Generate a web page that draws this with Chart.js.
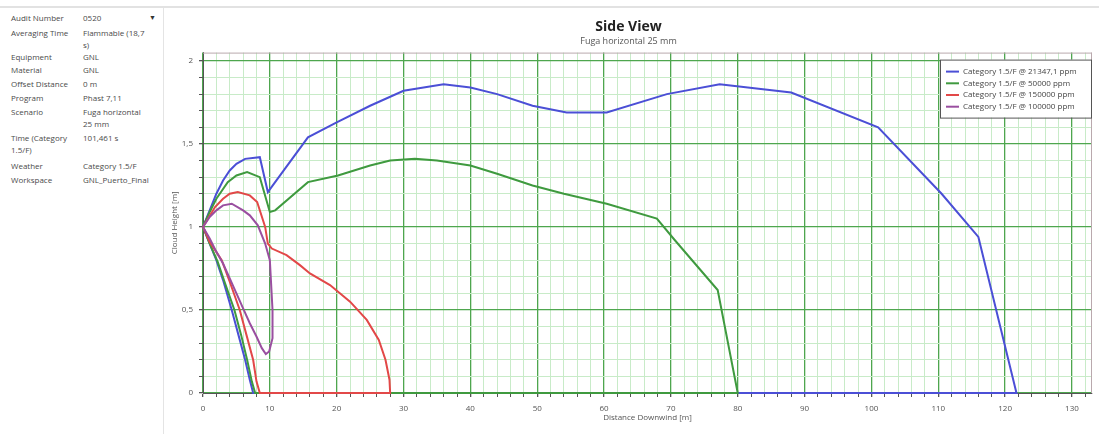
<!DOCTYPE html>
<html>
<head>
<meta charset="utf-8">
<script src="https://cdn.jsdelivr.net/npm/chart.js@4.4.0/dist/chart.umd.min.js"></script>
<style>
  body { margin: 0; background: #fff; font-family: "Open Sans", "Noto Sans", sans-serif; }
  #topbar { position: absolute; left: 0; top: 0; width: 1099px; height: 6px; border-bottom: 2px solid #e2e2e2; }
  #side { position: absolute; left: 0; top: 8px; width: 163px; height: 426px; border-right: 1px solid #e4e4e4; font-size: 8px; color: #4a4a4a; }
  .lbl { position: absolute; left: 11px; width: 72px; line-height: 12px; }
  .val { position: absolute; left: 83px; width: 78px; line-height: 12px; }
  #drop { position: absolute; left: 149px; top: 5px; font-size: 7px; color: #333; }
  #wrap { position: absolute; left: 165px; top: 10px; width: 934px; height: 424px; }
</style>
</head>
<body>
<div id="topbar"></div>
<div id="side"><span id="drop">&#9660;</span></div>
<div id="wrap"><canvas id="myChart"></canvas></div>
<script>
// side panel
var propNames = ['Audit Number', 'Averaging Time', 'Equipment', 'Material', 'Offset Distance',
  'Program', 'Scenario', 'Time (Category<br>1.5/F)', 'Weather', 'Workspace'];
var propValues = ['0520', 'Flammable (18,7<br>s)', 'GNL', 'GNL', '0 m',
  'Phast 7,11', 'Fuga horizontal<br>25 mm', '101,461 s', 'Category 1.5/F', 'GNL_Puerto_Final'];
var rowTops = [4, 19, 43, 56, 70, 84, 98, 124, 152, 166];

var side = document.getElementById('side');
for (var i = 0; i < propNames.length; i++) {
  var a = document.createElement('div');
  a.className = 'lbl'; a.style.top = rowTops[i] + 'px'; a.innerHTML = propNames[i];
  var b = document.createElement('div');
  b.className = 'val'; b.style.top = rowTops[i] + 'px'; b.innerHTML = propValues[i];
  side.appendChild(a); side.appendChild(b);
}

// chart data: each cloud outline runs from (0,1) down the lower edge,
// along the ground, up the far end and back along the upper edge
var seriesNames = ['Category 1.5/F @ 21347,1 ppm', 'Category 1.5/F @ 50000 ppm',
  'Category 1.5/F @ 150000 ppm', 'Category 1.5/F @ 100000 ppm'];

var blueX = [0, 1, 2, 3, 4.3, 5.3, 6.3, 7, 7.5, 121.7, 116, 110.5, 101, 88, 77.3, 69.4, 60.4, 54.4, 49.3, 44, 40, 36, 30, 25, 20, 15.7, 9.7, 8.5, 6.3, 5, 4, 3, 2, 1, 0];
var blueY = [1, 0.9, 0.8, 0.68, 0.5, 0.35, 0.2, 0.08, 0, 0, 0.94, 1.2, 1.6, 1.81, 1.86, 1.8, 1.69, 1.69, 1.73, 1.8, 1.84, 1.86, 1.82, 1.73, 1.63, 1.54, 1.21, 1.42, 1.41, 1.38, 1.34, 1.28, 1.2, 1.1, 1];

var greenX = [0, 1, 2.2, 3.3, 4.7, 5.7, 6.6, 7.3, 7.8, 80, 77, 70.6, 67.9, 60.4, 54, 49.3, 44, 40, 35, 31.7, 28, 25, 20.2, 15.7, 10.8, 10, 8.5, 6.6, 5, 3.7, 2, 1, 0];
var greenY = [1, 0.9, 0.79, 0.66, 0.5, 0.35, 0.2, 0.07, 0, 0, 0.62, 0.92, 1.05, 1.14, 1.2, 1.25, 1.32, 1.37, 1.4, 1.41, 1.4, 1.37, 1.31, 1.27, 1.1, 1.09, 1.3, 1.33, 1.31, 1.27, 1.17, 1.09, 1];

var redX = [0, 1, 2.8, 4, 5.5, 6.5, 7.5, 8, 8.5, 28, 27.9, 27.3, 26.3, 24.5, 22, 19, 16, 14.5, 12.5, 10.3, 9.7, 9.3, 8.1, 7, 5.2, 4, 3, 1.8, 0];
var redY = [1, 0.91, 0.8, 0.67, 0.5, 0.35, 0.2, 0.07, 0, 0, 0.08, 0.2, 0.32, 0.44, 0.55, 0.65, 0.72, 0.77, 0.83, 0.87, 0.9, 1.0, 1.15, 1.19, 1.21, 1.2, 1.17, 1.12, 1];

var purpleX = [0, 1, 2, 3, 4, 5, 6, 7, 8, 8.8, 9.4, 9.9, 10.4, 10.4, 10.2, 10, 9.3, 8.2, 7, 6, 4.3, 3, 2, 1, 0];
var purpleY = [1, 0.93, 0.85, 0.78, 0.69, 0.6, 0.51, 0.42, 0.34, 0.27, 0.235, 0.25, 0.33, 0.5, 0.65, 0.8, 0.9, 1.01, 1.07, 1.1, 1.14, 1.13, 1.1, 1.06, 1];

var seriesColors = ['#4b4fd6', '#3f9a3f', '#e24848', '#9a4fa0'];

var xLabels = [0, 10, 20, 30, 40, 50, 60, 70, 80, 90, 100, 110, 120, 130];
var yLabels = [0, 0.5, 1, 1.5, 2];

function pts(xs, ys) {
  return xs.map(function (x, i) { return {x: x, y: ys[i]}; });
}

var allX = [blueX, greenX, redX, purpleX];
var allY = [blueY, greenY, redY, purpleY];
var datasets = [];
for (var k = 0; k < 4; k++) {
  datasets.push({
    label: seriesNames[k],
    data: pts(allX[k], allY[k]),
    showLine: true,
    borderColor: seriesColors[k],
    backgroundColor: seriesColors[k],
    borderWidth: 2,
    pointRadius: 0,
    tension: 0,
    clip: 4,
    order: 4 - k
  });
}

function isMajorX(v) { return Math.abs(v % 10) < 1e-6; }
function isMajorY(v) { return Math.abs(v * 2 - Math.round(v * 2)) < 1e-6; }

// plot frame + boxed legend inside the plot
var framePlugin = {
  id: 'frame',
  beforeDatasetsDraw: function (chart) {
    var a = chart.chartArea, c = chart.ctx;
    c.save();
    c.strokeStyle = '#b9a9ad';
    c.lineWidth = 1;
    c.beginPath();
    c.moveTo(a.left, a.top + 0.5); c.lineTo(a.right, a.top + 0.5);
    c.moveTo(a.right - 0.5, a.top); c.lineTo(a.right - 0.5, a.bottom);
    c.stroke();
    c.restore();
  },
  afterDatasetsDraw: function (chart) {
    var a = chart.chartArea, c = chart.ctx;
    var w = 151, h = 58;
    var bx = a.right - w - 1, by = a.top + 7;
    c.save();
    c.fillStyle = '#ffffff';
    c.fillRect(bx, by, w, h);
    c.strokeStyle = '#555';
    c.lineWidth = 1;
    c.strokeRect(bx + 0.5, by + 0.5, w, h);
    c.font = '8px "Open Sans", sans-serif';
    c.textBaseline = 'middle';
    chart.data.datasets.forEach(function (ds, i) {
      var yy = by + 12 + i * 11.7;
      c.strokeStyle = ds.borderColor;
      c.lineWidth = 2;
      c.beginPath(); c.moveTo(bx + 6, yy); c.lineTo(bx + 19, yy); c.stroke();
      c.fillStyle = '#444';
      c.fillText(ds.label, bx + 23, yy);
    });
    c.restore();
  }
};

var ctx = document.getElementById('myChart');

const cfg = {
  type: 'scatter',
  data: { datasets: datasets },
  options: {
    responsive: true,
    maintainAspectRatio: false,
    animation: false,
    layout: { padding: { left: 0, right: 7, top: 0, bottom: 0 } },
    plugins: {
      legend: { display: false },
      tooltip: { enabled: false },
      title: {
        display: true, text: 'Side View', color: '#222',
        font: { size: 14, weight: 'bold', family: '"Open Sans", sans-serif' },
        padding: { top: 9, bottom: 0 }
      },
      subtitle: {
        display: true, text: 'Fuga horizontal 25 mm', color: '#555',
        font: { size: 9, family: '"Open Sans", sans-serif' },
        padding: { top: 0, bottom: 6 }
      }
    },
    scales: {
      x: {
        type: 'linear', min: 0, max: 133,
        afterBuildTicks: function (s) {
          var t = [];
          for (var v = 0; v <= 132; v += 2) t.push({value: v});
          s.ticks = t;
        },
        afterFit: function (s) { s.height = 41; },
        ticks: {
          autoSkip: false, maxRotation: 0, padding: 7, color: '#555',
          font: { size: 8, family: '"Open Sans", sans-serif' },
          callback: function (v) { return xLabels.indexOf(v) >= 0 ? String(v) : ''; }
        },
        grid: {
          color: function (c) { return isMajorX(c.tick.value) ? '#4ea64e' : '#c8ebc8'; },
          lineWidth: function (c) { return isMajorX(c.tick.value) ? 1.3 : 1; },
          tickColor: '#555', tickLength: 4
        },
        border: { color: '#555', width: 1 },
        title: {
          display: true, text: 'Distance Downwind [m]', color: '#555',
          font: { size: 8, family: '"Open Sans", sans-serif' },
          padding: { top: 0, bottom: 11 }
        }
      },
      y: {
        type: 'linear', min: 0, max: 2.05,
        afterBuildTicks: function (s) {
          var t = [];
          for (var i = 0; i <= 20; i++) t.push({value: Math.round(i) / 10});
          s.ticks = t;
        },
        afterFit: function (s) { s.width = 38; },
        ticks: {
          autoSkip: false, padding: 6, color: '#555',
          font: { size: 8, family: '"Open Sans", sans-serif' },
          callback: function (v) {
            if (!isMajorY(v)) return '';
            return yLabels.indexOf(v) >= 0 ? String(v).replace('.', ',') : '';
          }
        },
        grid: {
          color: function (c) { return isMajorY(c.tick.value) ? '#4ea64e' : '#c8ebc8'; },
          lineWidth: function (c) { return isMajorY(c.tick.value) ? 1.3 : 1; },
          tickColor: '#555', tickLength: 4
        },
        border: { color: '#555', width: 1 },
        title: {
          display: true, text: 'Cloud Height [m]', color: '#555',
          font: { size: 8, family: '"Open Sans", sans-serif' },
          padding: { top: 5, bottom: 0 }
        }
      }
    }
  },
  plugins: [framePlugin]
};

new Chart(ctx, cfg);
</script>
</body>
</html>
